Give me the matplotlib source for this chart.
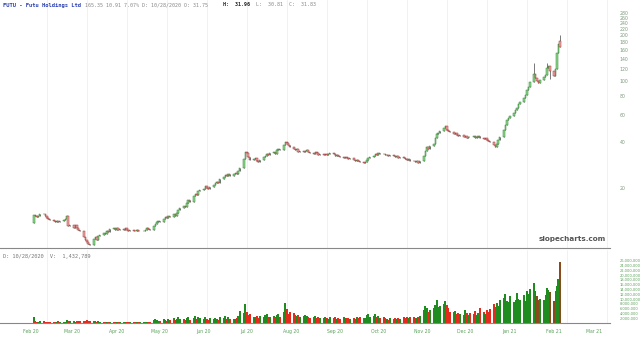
import numpy as np
import pandas as pd
import matplotlib
matplotlib.use("Agg")
import matplotlib.pyplot as plt
import matplotlib.dates as mdates

# daily closes, one row per week starting Mon 2020-02-03
closes = [
    13.3, 13.1, 13.0, 13.2, 13.5,
    13.6, 13.2, 12.8, 12.5, 12.3,
    12.1, 12.0, 12.2, 11.9, 12.1,
    12.3, 12.5, 13.1, 11.2, 11.5,
    11.0, 11.4, 10.9, 10.7, 10.4,
    9.6, 9.2, 8.9, 8.6, 8.5,
    9.3, 9.5, 9.2, 9.7, 9.9,
    10.2, 10.0, 10.4, 10.3, 10.8,
    10.9, 10.7, 10.9, 10.6, 10.8,
    10.7, 10.9, 10.6, 10.5, 10.7,
    10.5, 10.4, 10.6, 10.4, 10.5,
    10.5, 10.7, 10.9, 10.8, 10.7,
    11.2, 11.6, 11.9, 12.2, 12.0,
    12.6, 12.9, 12.7, 13.1, 13.0,
    13.6, 13.2, 13.7, 14.4, 14.9,
    15.3, 15.0, 16.0, 16.6, 16.3,
    17.6, 18.4, 18.0, 19.0, 19.4,
    19.8, 20.5, 20.1, 19.6, 20.3,
    20.8, 21.5, 22.0, 21.6, 22.8,
    23.5, 24.2, 23.8, 24.6, 24.1,
    24.8, 25.2, 24.6, 25.8, 27.0,
    31.0, 34.5, 33.8, 32.0, 30.5,
    30.8, 31.5, 30.2, 29.6, 30.4,
    31.8, 32.5, 33.6, 32.9, 34.0,
    34.5, 33.6, 35.2, 36.0, 35.4,
    38.0, 40.0, 39.2, 38.0, 37.0,
    36.0, 35.2, 35.8, 34.6, 34.9,
    34.2, 34.8, 35.4, 34.5, 33.9,
    33.5, 34.2, 33.8, 33.0, 33.6,
    32.8, 33.4, 32.9, 33.3, 33.8,
    33.2, 32.6, 33.0, 32.4, 32.0,
    31.6, 32.1, 31.4, 30.9, 31.3,
    30.6, 30.1, 30.5, 29.8, 29.5,
    29.2, 29.7, 30.4, 31.2, 31.8,
    32.5, 33.4, 33.0, 33.8, 33.2,
    33.6, 32.9, 33.1, 32.5, 32.8,
    32.4, 31.8, 32.2, 31.5, 31.9,
    31.3, 31.0, 30.4, 30.8, 30.2,
    29.8, 29.4, 29.9, 29.2, 30.0,
    32.5, 35.0, 36.8, 35.9, 37.5,
    39.0, 42.5, 44.8, 46.0, 47.5,
    49.0, 50.5, 48.2, 47.0, 46.2,
    45.0, 46.0, 44.2, 43.5, 44.5,
    43.0, 43.8, 42.6, 43.4, 42.8,
    43.5, 42.2, 42.9, 43.6, 42.4,
    41.8, 42.5, 41.2, 40.5, 39.8,
    38.0, 37.2, 38.5, 41.0, 43.0,
    48.0, 52.0, 55.5, 57.0, 59.5,
    62.0, 64.5, 67.0, 70.5, 73.0,
    78.0, 80.5, 88.0, 92.0, 98.0,
    112.0, 104.0, 100.0, 97.0, 101.0,
    106.0, 110.0, 122.0, 125.0, 116.0,
    108.0, 120.0, 152.0, 176.0, 166.0,
]

# volume in millions, same days
volume_m = [
    2.6, 0.9, 0.6, 0.5, 0.7,
    0.8, 0.5, 0.6, 0.4, 0.5,
    0.6, 0.4, 0.5, 0.7, 0.5,
    0.6, 0.5, 1.2, 1.0, 0.7,
    0.8, 0.6, 0.7, 0.9, 0.8,
    1.0, 0.9, 1.1, 0.8, 1.0,
    0.9, 0.7, 0.6, 0.8, 0.6,
    0.5, 0.6, 0.4, 0.5, 0.6,
    0.5, 0.4, 0.5, 0.4, 0.3,
    0.4, 0.3, 0.4, 0.3, 0.4,
    0.3, 0.4, 0.3, 0.3, 0.4,
    0.4, 0.5, 0.4, 0.6, 0.5,
    1.2, 1.6, 1.4, 1.0, 0.9,
    1.5, 1.2, 0.9, 1.8, 1.1,
    2.2, 1.3, 1.6, 2.4, 1.8,
    1.6, 1.2, 2.0, 2.6, 1.4,
    2.2, 2.8, 1.6, 2.4, 2.0,
    1.8, 2.4, 1.5, 1.3, 1.9,
    1.6, 2.0, 1.8, 1.4, 2.5,
    2.2, 2.8, 1.7, 2.3, 1.6,
    1.8, 1.5, 2.1, 3.0, 5.2,
    4.0, 7.8, 4.5, 3.2, 3.6,
    2.4, 2.6, 3.0, 2.2, 2.8,
    2.5, 3.2, 3.8, 2.4, 2.7,
    2.9, 2.6, 3.4, 3.6, 2.3,
    4.5, 8.5, 6.0, 3.8, 4.4,
    4.0, 3.2, 2.8, 3.5, 2.6,
    2.8, 3.4, 2.9, 2.5, 2.2,
    2.4, 2.9, 2.1, 2.6, 2.0,
    2.2, 2.5, 2.0, 1.8, 2.6,
    2.0, 2.3, 1.8, 2.1, 1.7,
    2.4, 2.0, 2.2, 1.9, 1.6,
    2.1, 1.8, 2.4, 2.0, 2.7,
    1.9, 2.2, 3.2, 3.6, 2.5,
    3.0, 3.8, 2.4, 2.9, 2.2,
    2.4, 2.1, 1.8, 1.4, 2.0,
    1.7, 2.2, 1.6, 2.0, 1.8,
    2.3, 2.1, 2.6, 1.9, 2.4,
    2.6, 2.2, 1.9, 2.4, 3.0,
    5.5, 7.0, 6.2, 4.8, 5.6,
    6.4, 7.5, 9.5, 6.8, 7.2,
    8.0, 9.0, 7.4, 6.2, 4.8,
    4.4, 5.0, 3.8, 4.2, 3.6,
    3.4, 5.6, 4.0, 3.2, 4.1,
    3.8, 5.2, 3.5, 4.0, 6.2,
    4.6, 3.8, 5.5, 4.4, 6.0,
    7.8, 6.5, 8.4, 7.0, 9.5,
    10.5, 12.2, 9.4, 8.6, 11.4,
    8.8, 9.6, 12.5, 10.2, 9.8,
    11.5, 9.0, 13.5, 12.0, 14.2,
    16.8, 13.4, 11.2, 9.6, 10.0,
    9.5, 11.8, 14.5, 13.8, 12.8,
    9.0, 13.2, 15.6, 18.4, 25.6,
]

first_open = 11.8
gap_opens = {264: 182.0}
extra_highs = {250: 131.0, 257: 132.0, 264: 200.0}
extra_lows = {259: 103.0}

price_ticks = [20, 40, 60, 80, 100, 120, 140, 160, 180, 200, 220, 240, 260, 280]
vol_ticks = [2, 4, 6, 8, 10, 12, 14, 16, 18, 20, 22, 24, 26]
month_starts = pd.date_range("2020-02-01", "2021-03-01", freq="MS")
month_labels = [d.strftime("%b %y") for d in month_starts]

dates = pd.bdate_range("2020-02-03", periods=len(closes))
x = mdates.date2num(dates.to_pydatetime())
c = np.array(closes)
o = np.concatenate([[first_open], c[:-1]])
for i, v in gap_opens.items():
    o[i] = v
hi = np.maximum(o, c)
lo = np.minimum(o, c)
for i, v in extra_highs.items():
    hi[i] = v
for i, v in extra_lows.items():
    lo[i] = v
up = c >= o
vol = np.array(volume_m) * 1e6

W, H = 640, 338
fig = plt.figure(figsize=(6.4, 3.38), dpi=100)
ax = fig.add_axes([0, (H - 248) / H, 610 / W, 248 / H])
axv = fig.add_axes([0, (H - 323) / H, 610 / W, 73 / H])

px_day = 1.429
base = mdates.date2num(pd.Timestamp("2020-02-01").to_pydatetime())
x0 = base - 31 / px_day
x1 = base + (610 - 31) / px_day

grid_dates = pd.date_range("2020-02-12", "2021-03-31", freq="28D")
for a in (ax, axv):
    for g in grid_dates:
        a.axvline(mdates.date2num(g.to_pydatetime()), color="#ececec", lw=0.5, zorder=0)
    a.set_xlim(x0, x1)
    for s in ("top", "left", "right"):
        a.spines[s].set_visible(False)
    a.spines["bottom"].set_color("#888888")
    a.spines["bottom"].set_linewidth(0.8)

# candles
ax.vlines(x, lo, hi, color="#444444", lw=0.5, zorder=2)
ax.bar(x[up], (c - o)[up] + 1e-6, bottom=o[up], width=1.1,
       color="#8fdc8f", edgecolor="#2f7a2f", lw=0.35, zorder=3)
ax.bar(x[~up], (o - c)[~up], bottom=c[~up], width=1.1,
       color="#f2a7a7", edgecolor="#9a3030", lw=0.35, zorder=3)
ax.set_yscale("log")
ax.set_ylim(8.1, 339)
ax.yaxis.tick_right()
ax.set_yticks(price_ticks)
ax.set_yticklabels([str(t) for t in price_ticks])
ax.yaxis.set_minor_locator(matplotlib.ticker.NullLocator())
ax.tick_params(axis="y", length=0, pad=7, labelsize=3.3, labelcolor="#7a9a7a")
ax.set_xticks([])

ax.text(606 / 610, 6 / 248, "slopecharts.com", transform=ax.transAxes,
        ha="right", va="bottom", fontsize=5.2, fontweight="bold", color="#555555")

# volume
vcol = np.where(up, "#1e8c1e", np.where(vol >= 8e6, "#8b4a1c", "#e52a1e"))
axv.bar(x, vol, width=1.3, color=vcol, lw=0, zorder=2)
axv.set_ylim(0, 30.5e6)
axv.yaxis.tick_right()
axv.set_yticks([t * 1e6 for t in vol_ticks])
axv.set_yticklabels([f"{t * 1000000:,}" for t in vol_ticks])
axv.tick_params(axis="y", length=0, pad=7, labelsize=2.6, labelcolor="#5aa05a")
axv.set_xticks(mdates.date2num(month_starts.to_pydatetime()))
axv.set_xticklabels(month_labels)
axv.tick_params(axis="x", length=0, pad=4, labelsize=3.3, labelcolor="#5aa05a")
axv.text(3 / 610, 1 - 4 / 73, "D: 10/28/2020  V:  1,432,789", transform=axv.transAxes,
         ha="left", va="top", fontsize=3.8, family="DejaVu Sans Mono", color="#777777")

# header
hy = 1 - 5 / H
fig.text(3 / W, hy, "FUTU - Futu Holdings Ltd", fontsize=4, family="DejaVu Sans Mono",
         fontweight="bold", color="#2a3fb0", va="center")
fig.text(85 / W, hy, "165.35 10.91 7.07% D: 10/28/2020 O: 31.75", fontsize=3.6,
         family="DejaVu Sans Mono", color="#888888", va="center")
fig.text(223 / W, hy, "H:  31.96", fontsize=3.6, family="DejaVu Sans Mono",
         fontweight="bold", color="#222222", va="center")
fig.text(256 / W, hy, "L:  30.81  C:  31.83", fontsize=3.6, family="DejaVu Sans Mono",
         color="#888888", va="center")

fig.savefig("out.png", dpi=100)
